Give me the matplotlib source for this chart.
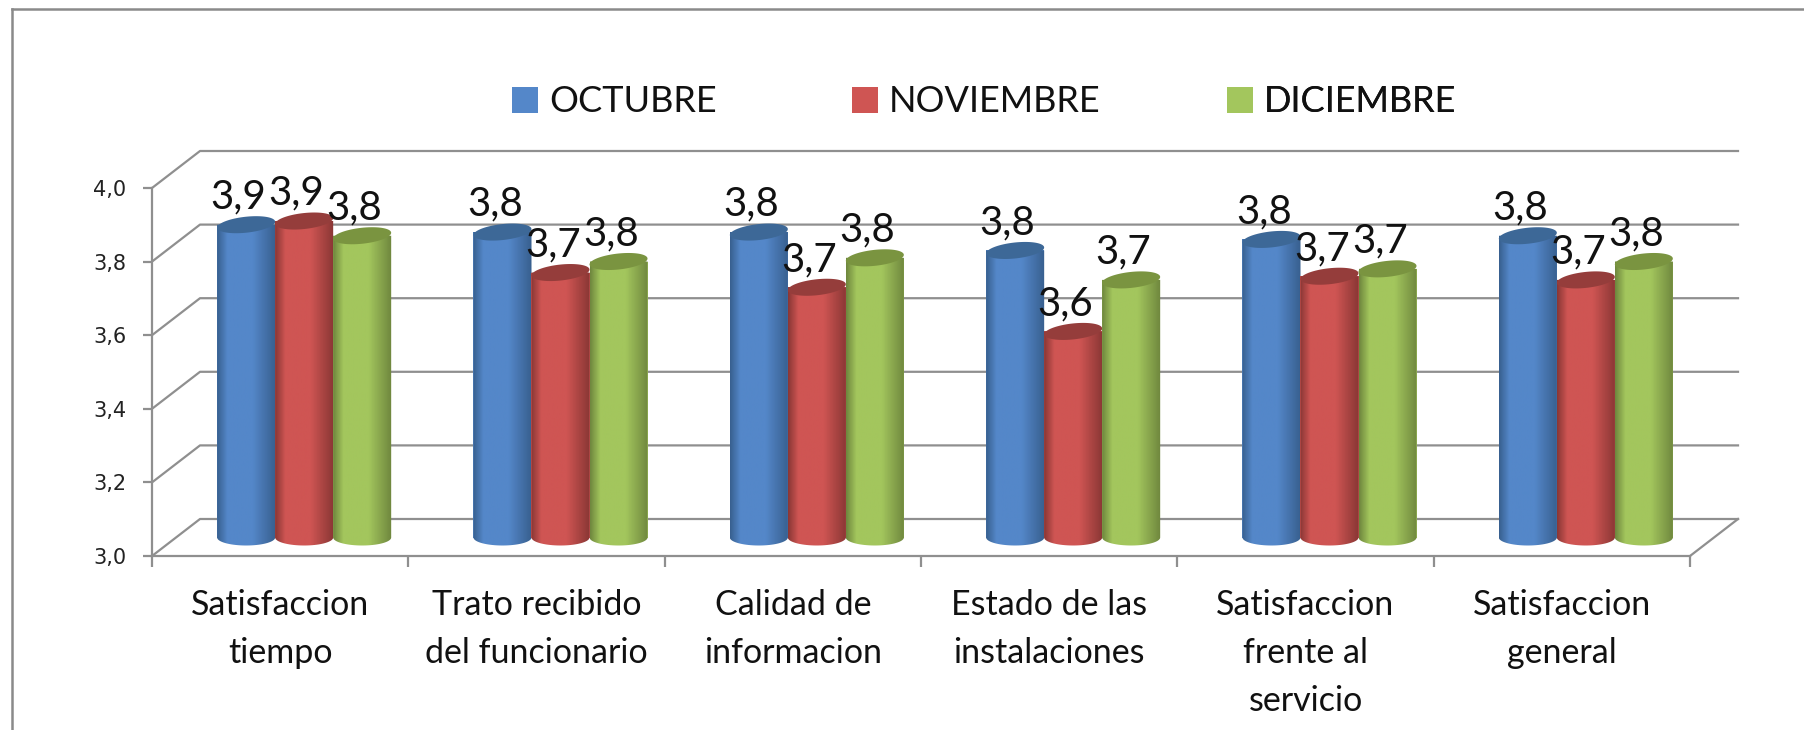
import numpy as np
import matplotlib
matplotlib.use("Agg")
import matplotlib.pyplot as plt
from matplotlib.colors import LinearSegmentedColormap
from matplotlib.lines import Line2D
from matplotlib.patches import PathPatch, Patch
from matplotlib.path import Path

categories = [
    "Satisfaccion\ntiempo",
    "Trato recibido\ndel funcionario",
    "Calidad de\ninformacion",
    "Estado de las\ninstalaciones",
    "Satisfaccion\nfrente al\nservicio",
    "Satisfaccion\ngeneral",
]
octubre = [3.85, 3.83, 3.83, 3.78, 3.81, 3.82]
noviembre = [3.86, 3.72, 3.68, 3.56, 3.71, 3.70]
diciembre = [3.82, 3.75, 3.76, 3.70, 3.73, 3.75]
y_ticks = [3.0, 3.2, 3.4, 3.6, 3.8, 4.0]

series = ["OCTUBRE", "NOVIEMBRE", "DICIEMBRE"]
# edge, light, top ellipse
colors = [
    ("#38608f", "#5487c9", "#3d6897"),
    ("#8a3735", "#cf5553", "#953d3b"),
    ("#6f873e", "#a3c65d", "#7a9440"),
]

GREY = "#8f8f8f"
FONT = "Lato"
depth_x = 48 / 256.3
depth_y = 37 / 368
bar_w = 58 / 256.3
ell = 8 / 368

fig = plt.figure(figsize=(18.04, 7.3), dpi=100)
ax = fig.add_axes([152 / 1804, 174 / 730, 1538 / 1804, 368 / 730])
ax.set_xlim(0, 6)
ax.set_ylim(3, 4)

# outer frame of the picture
fig.add_artist(Line2D([12 / 1804, 12 / 1804], [0, 1 - 9 / 730], color="#8a8a8a", lw=1.8))
fig.add_artist(Line2D([12 / 1804, 1], [1 - 9 / 730, 1 - 9 / 730], color="#8a8a8a", lw=1.8))

# walls
for t in y_ticks:
    ax.plot([0, depth_x, 6 + depth_x], [t, t + depth_y, t + depth_y], color=GREY, lw=1.6,
            clip_on=False, zorder=1)
ax.plot([6, 6 + depth_x], [3, 3 + depth_y], color=GREY, lw=1.6, clip_on=False, zorder=1)

x = np.arange(len(categories)) + 0.5 + depth_x / 2
base = 3 + depth_y / 2
t = np.linspace(0, np.pi, 40)
z = 3
for i, vals in enumerate([octubre, noviembre, diciembre]):
    edge, light, top = colors[i]
    cmap = LinearSegmentedColormap.from_list("c", [edge, light, light, edge], N=128)
    grad = np.interp(np.linspace(0, 1, 128), [0, 0.2, 0.55, 1], [0, 0.38, 0.62, 1]).reshape(1, -1)
    bars = ax.bar(x + (i - 1) * bar_w, np.array(vals) - 3, bar_w, bottom=base, color=light,
                  clip_on=False, zorder=z)
    for bar, v in zip(bars, vals):
        x0, w = bar.get_x(), bar.get_width()
        ytop = bar.get_y() + bar.get_height()
        cx = x0 + w / 2
        arc_x = cx + w / 2 * np.cos(t)
        body = np.column_stack([
            np.r_[x0, x0 + w, arc_x],
            np.r_[ytop, ytop, base - ell * np.sin(t)],
        ])
        body_path = Path(np.vstack([body, body[0]]), closed=True)
        im = ax.imshow(grad, cmap=cmap, vmin=0, vmax=1, aspect="auto", zorder=z + 0.1,
                       extent=[x0, x0 + w, base - 2 * ell, ytop + ell])
        im.set_clip_path(PathPatch(body_path, transform=ax.transData))
        tt = np.linspace(0, 2 * np.pi, 80)
        # the top is slightly tilted, as in the 3D view
        ex = cx + w / 2 * np.cos(tt)
        ey = ytop + ell * np.sin(tt) + 0.008 * np.cos(tt)
        ax.fill(ex, ey, color=top, lw=0, clip_on=False, zorder=z + 0.2)
        ax.text(cx - 0.03, ytop + 0.044, f"{v:.1f}".replace(".", ","), ha="center",
                va="baseline", fontsize=29, family=FONT, color="#111111", zorder=20)
    z += 1
ax.set_xlim(0, 6)
ax.set_ylim(3, 4)

for s in ["top", "right"]:
    ax.spines[s].set_visible(False)
for s in ["left", "bottom"]:
    ax.spines[s].set_color(GREY)
    ax.spines[s].set_linewidth(1.6)
    ax.spines[s].set_zorder(2)

ax.set_yticks(y_ticks)
ax.set_yticklabels([f"{v:.1f}".replace(".", ",") for v in y_ticks], fontsize=15,
                   family="DejaVu Sans", color="#222222")
ax.tick_params(axis="y", length=6.5, width=1.6, color=GREY, pad=12)
ax.set_xticks(range(7))
ax.set_xticklabels([])
ax.tick_params(axis="x", which="major", length=8, width=1.6, color=GREY)
ax.set_xticks(np.arange(6) + 0.5, minor=True)
ax.set_xticklabels(categories, minor=True, fontsize=24.5, family=FONT, color="#111111",
                   linespacing=1.6, va="top")
ax.tick_params(axis="x", which="minor", length=0, pad=24)

# one legend per entry, the gaps in the original are not even
for i, lx in enumerate([512, 852, 1227]):
    leg = ax.legend(handles=[Patch(facecolor=colors[i][1], label=series[i])], frameon=False,
                    loc="center left", bbox_to_anchor=((lx - 152) / 1538, (556 - 102) / 368),
                    prop={"family": FONT, "size": 26}, labelcolor="#111111",
                    handlelength=0.72, handleheight=0.72, handletextpad=0.3,
                    borderpad=0, borderaxespad=0)
    ax.add_artist(leg)

fig.savefig("out.png", dpi=100, facecolor="white")
